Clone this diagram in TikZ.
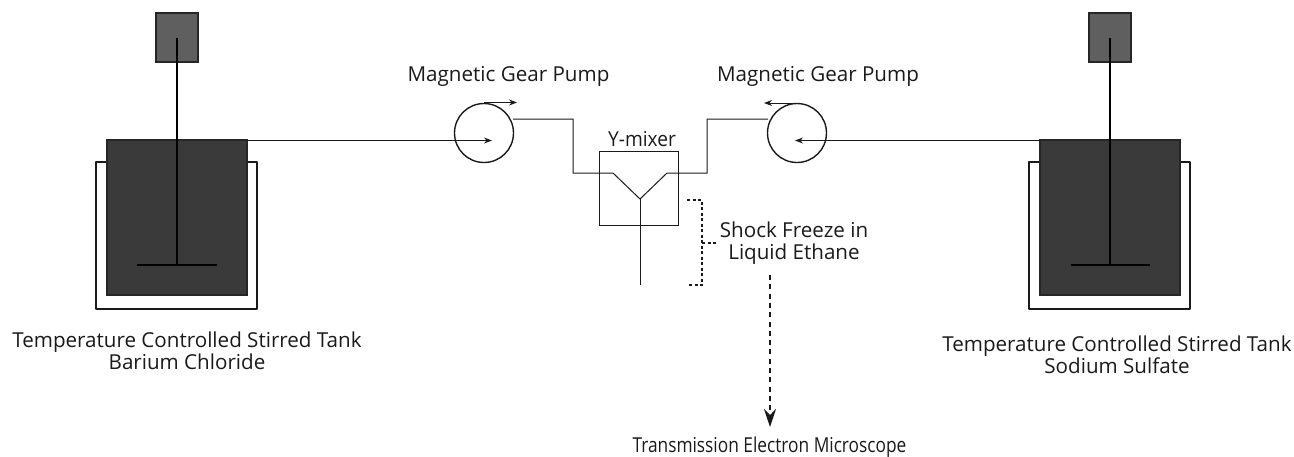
\documentclass[tikz,border=0pt]{standalone}
\usepackage{fontspec}
\setmainfont{Open Sans}
\usetikzlibrary{arrows.meta}
\definecolor{tankc}{HTML}{3A3A3A}
\definecolor{motorc}{HTML}{5F5F5F}
\definecolor{ink}{HTML}{1A1A1A}
\tikzset{
  x=1pt,y=-1pt,
  ln/.style={draw=ink,line width=1.3pt},
  thin ln/.style={draw=ink,line width=1pt},
  shaft/.style={draw=black,line width=1.1pt},
  tankbox/.style={rectangle,draw=black!85,line width=1.3pt,fill=tankc,minimum width=140pt,minimum height=155pt,inner sep=0pt},
  motorbox/.style={rectangle,draw=black!85,line width=1.3pt,fill=motorc,minimum width=42pt,minimum height=49pt,inner sep=0pt},
  pumpc/.style={circle,draw=ink,line width=1.4pt,minimum size=59pt,inner sep=0pt},
  mixbox/.style={rectangle,draw=ink,line width=1pt,minimum width=79pt,minimum height=74pt,inner sep=0pt},
  txt/.style={inner sep=0pt,align=center,text=ink,font=\fontsize{20.6pt}{22.5pt}\selectfont},
  tip/.style={-{Stealth[length=8pt,width=6pt]}},
  dots/.style={draw=ink,line width=1.2pt,dash pattern=on 3pt off 2.5pt},
  dash2/.style={draw=ink,line width=1.5pt,dash pattern=on 5pt off 4.3pt},
}
\begin{document}
\begin{tikzpicture}
\useasboundingbox (0,0) rectangle (1294,456);
% jackets
\coordinate (jl1) at (107,162); \coordinate (jl2) at (96,162); \coordinate (jl3) at (96,309);
\coordinate (jl4) at (257,309); \coordinate (jl5) at (257,162); \coordinate (jl6) at (247,162);
\draw[ln,line join=round] (jl1) -- (jl2) -- (jl3) -- (jl4) -- (jl5) -- (jl6);
\coordinate (jr1) at (1040,162); \coordinate (jr2) at (1029,162); \coordinate (jr3) at (1029,309);
\coordinate (jr4) at (1190,309); \coordinate (jr5) at (1190,162); \coordinate (jr6) at (1180,162);
\draw[ln,line join=round] (jr1) -- (jr2) -- (jr3) -- (jr4) -- (jr5) -- (jr6);
% tanks and motors
\node[tankbox] (tankL) at (177,217.5) {};
\node[tankbox] (tankR) at (1110,217.5) {};
\node[motorbox] (motorL) at (177,37.5) {};
\node[motorbox] (motorR) at (1110,37.5) {};
% shafts
\coordinate (sl0) at (177,38); \coordinate (sl1) at (177,265);
\coordinate (il0) at (137,265); \coordinate (il1) at (217,265);
\draw[shaft] (sl0) -- (sl1); \draw[shaft] (il0) -- (il1);
\coordinate (sr0) at (1110,38); \coordinate (sr1) at (1110,265);
\coordinate (ir0) at (1071,265); \coordinate (ir1) at (1150,265);
\draw[shaft] (sr0) -- (sr1); \draw[shaft] (ir0) -- (ir1);
% pumps
\node[pumpc] (pumpL) at (484,133) {};
\node[pumpc] (pumpR) at (797,133) {};
\node[mixbox] (mixer) at (638.5,188) {};
% feeds
\coordinate (fl0) at (247,140.5); \coordinate (fl1) at (492,140.5);
\draw[thin ln,tip] (fl0) -- (fl1);
\coordinate (fr0) at (1040,140.5); \coordinate (fr1) at (795,140.5);
\draw[thin ln,tip] (fr0) -- (fr1);
% rotation arrows
\coordinate (rl0) at (484,102.5); \coordinate (rl1) at (517,102.5);
\draw[thin ln,tip] (rl0) -- (rl1);
\coordinate (rr0) at (797,103); \coordinate (rr1) at (764,103);
\draw[thin ln,tip] (rr0) -- (rr1);
% Y lines
\coordinate (a0) at (513,119); \coordinate (a1) at (573,119); \coordinate (a2) at (573,173);
\coordinate (a3) at (613,173); \coordinate (y) at (640,199); \coordinate (b3) at (667,173);
\coordinate (b2) at (707,173); \coordinate (b1) at (707,119); \coordinate (b0) at (768,119);
\coordinate (stem) at (640,285);
\draw[thin ln,line join=miter] (a0) -- (a1) -- (a2) -- (a3) -- (y) -- (b3) -- (b2) -- (b1) -- (b0);
\draw[thin ln] (y) -- (stem);
% bracket
\coordinate (k0) at (687,200); \coordinate (k1) at (702,200); \coordinate (k2) at (702,285);
\coordinate (k3) at (687,285); \coordinate (k4) at (702,243); \coordinate (k5) at (716,243);
\draw[dots] (k0) -- (k1) -- (k2) -- (k3);
\draw[dots] (k4) -- (k5);
% to TEM
\coordinate (t0) at (770,275); \coordinate (t1) at (770,427);
\draw[dash2,-{Stealth[length=18pt,width=12pt,inset=6pt]}] (t0) -- (t1);
% labels
\node[txt] (lpl) at (508.5,76.5) {Magnetic Gear Pump};
\node[txt] (lpr) at (818,76.5) {Magnetic Gear Pump};
\node[txt] (lym) at (642,139) {\scalebox{0.93}[1]{Y-mixer}};
\node[txt] (lsf) at (794,243) {Shock Freeze in\\Liquid Ethane};
\node[txt] (ltl) at (187,351) {Temperature Controlled Stirred Tank\\Barium Chloride};
\node[txt] (ltr) at (1117,355) {Temperature Controlled Stirred Tank\\Sodium Sulfate};
\node[txt] (ltem) at (769.5,447.5) {\scalebox{0.84}[1]{Transmission Electron Microscope}};
\end{tikzpicture}
\end{document}
